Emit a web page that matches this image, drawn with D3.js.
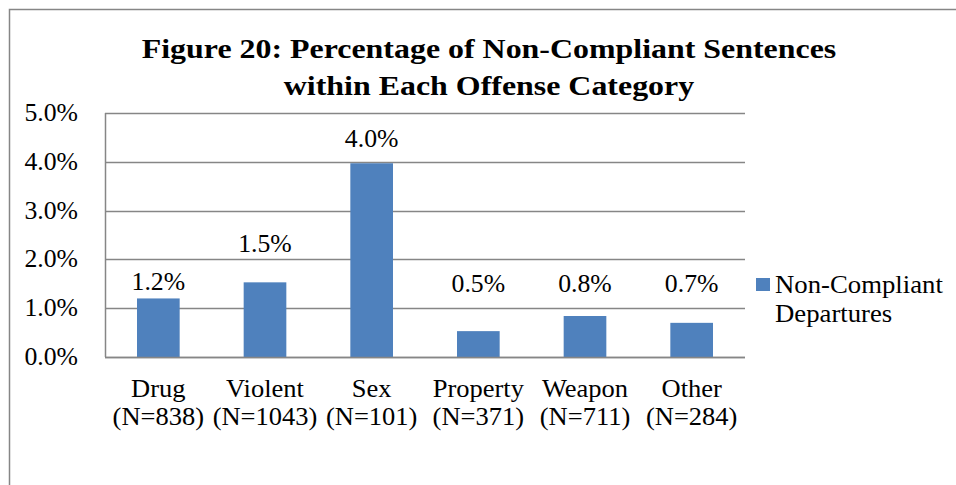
<!DOCTYPE html>
<html>
<head>
<meta charset="utf-8">
<script src="https://cdn.jsdelivr.net/npm/d3@7"></script>
<style>
  body { margin: 0; background: #fff; }
</style>
</head>
<body>
<svg id="chart" width="956" height="485"></svg>
<script>
// chart data
var categories = ["Drug", "Violent", "Sex", "Property", "Weapon", "Other"];
var counts = ["(N=838)", "(N=1043)", "(N=101)", "(N=371)", "(N=711)", "(N=284)"];
var values = [1.2, 1.53, 3.97, 0.53, 0.84, 0.7];
var labels = ["1.2%", "1.5%", "4.0%", "0.5%", "0.8%", "0.7%"];
// where the data labels sit, in axis units (placed by hand in the original)
var labelAt = [1.38, 2.16, 4.31, 1.33, 1.33, 1.33];
var yTicks = [0, 1, 2, 3, 4, 5];
var seriesName = ["Non-Compliant", "Departures"];
var titleLines = ["Figure 20: Percentage of Non-Compliant Sentences", "within Each Offense Category"];

var FONT = "Liberation Serif, Times New Roman, serif";
var svg = d3.select("#chart");
var margin = {left: 105, top: 113, right: 211, bottom: 128};
var w = 956 - margin.left - margin.right,
    h = 485 - margin.top - margin.bottom;

// the original picture is a little stretched sideways, so text gets an x scale
function place(px, py, sx) {
  return "translate(" + px + "," + py + ") scale(" + sx + ",1)";
}

// outer frame
svg.append("rect")
  .attr("x", 9.5).attr("y", 9.5)
  .attr("width", 1000).attr("height", 1000)
  .attr("fill", "none").attr("stroke", "#868686").attr("stroke-width", 1.5);

// title
svg.append("g").selectAll("text")
  .data(titleLines)
  .join("text")
  .attr("transform", function(d, i){ return place(489, 58 + i * 37, 1.14); })
  .attr("text-anchor", "middle")
  .attr("font-family", FONT)
  .attr("font-size", 28)
  .attr("font-weight", "bold")
  .text(function(d){ return d; });

var g = svg.append("g").attr("transform", "translate(" + margin.left + "," + margin.top + ")");

var x = d3.scaleBand().domain(categories).range([0, w]).paddingInner(0.6).paddingOuter(0.3);
var y = d3.scaleLinear().domain([0, 5]).range([h, 0]);

// gridlines
g.append("g").selectAll("line")
  .data(yTicks)
  .join("line")
  .attr("x1", 0).attr("x2", w)
  .attr("y1", function(d){ return Math.round(y(d)) + 0.5; })
  .attr("y2", function(d){ return Math.round(y(d)) + 0.5; })
  .attr("stroke", "#868686").attr("stroke-width", 1.5);

// left axis line
g.append("line")
  .attr("x1", 0.5).attr("x2", 0.5)
  .attr("y1", 0).attr("y2", h)
  .attr("stroke", "#868686").attr("stroke-width", 1.5);

// y tick labels
g.append("g").selectAll("text")
  .data(yTicks)
  .join("text")
  .attr("transform", function(d){ return place(-27, y(d) + 8, 1.03); })
  .attr("text-anchor", "end")
  .attr("font-family", FONT)
  .attr("font-size", 25)
  .text(function(d){ return d3.format(".1f")(d) + "%"; });

// bars
g.append("g").selectAll("rect")
  .data(values)
  .join("rect")
  .attr("x", function(d, i){ return x(categories[i]); })
  .attr("width", x.bandwidth())
  .attr("y", function(d){ return y(d); })
  .attr("height", function(d){ return h - y(d); })
  .attr("fill", "#4F81BD");

// baseline over the bars
g.append("line")
  .attr("x1", 0).attr("x2", w)
  .attr("y1", h + 0.5).attr("y2", h + 0.5)
  .attr("stroke", "#868686").attr("stroke-width", 1.5);

// data labels
g.append("g").selectAll("text")
  .data(labels)
  .join("text")
  .attr("transform", function(d, i){
    return place(x(categories[i]) + x.bandwidth() / 2, y(labelAt[i]), 1.03);
  })
  .attr("text-anchor", "middle")
  .attr("font-family", FONT)
  .attr("font-size", 25)
  .text(function(d){ return d; });

// category labels, two lines each
var cat = g.append("g").selectAll("text")
  .data(categories)
  .join("text")
  .attr("transform", function(d){ return place(x(d) + x.bandwidth() / 2, h + 40, 1.06); })
  .attr("text-anchor", "middle")
  .attr("font-family", FONT)
  .attr("font-size", 25);
cat.append("tspan")
  .attr("x", 0).attr("y", 0)
  .text(function(d){ return d; });
cat.append("tspan")
  .attr("x", 0).attr("y", 28)
  .text(function(d, i){ return counts[i]; });

// legend
var lg = svg.append("g").attr("transform", "translate(756,278)");
lg.append("rect").attr("width", 14).attr("height", 13).attr("fill", "#4F81BD");
lg.selectAll("text")
  .data(seriesName)
  .join("text")
  .attr("transform", function(d, i){ return place(19, 15 + i * 29, 1.07); })
  .attr("font-family", FONT)
  .attr("font-size", 25)
  .text(function(d){ return d; });
</script>
</body>
</html>
